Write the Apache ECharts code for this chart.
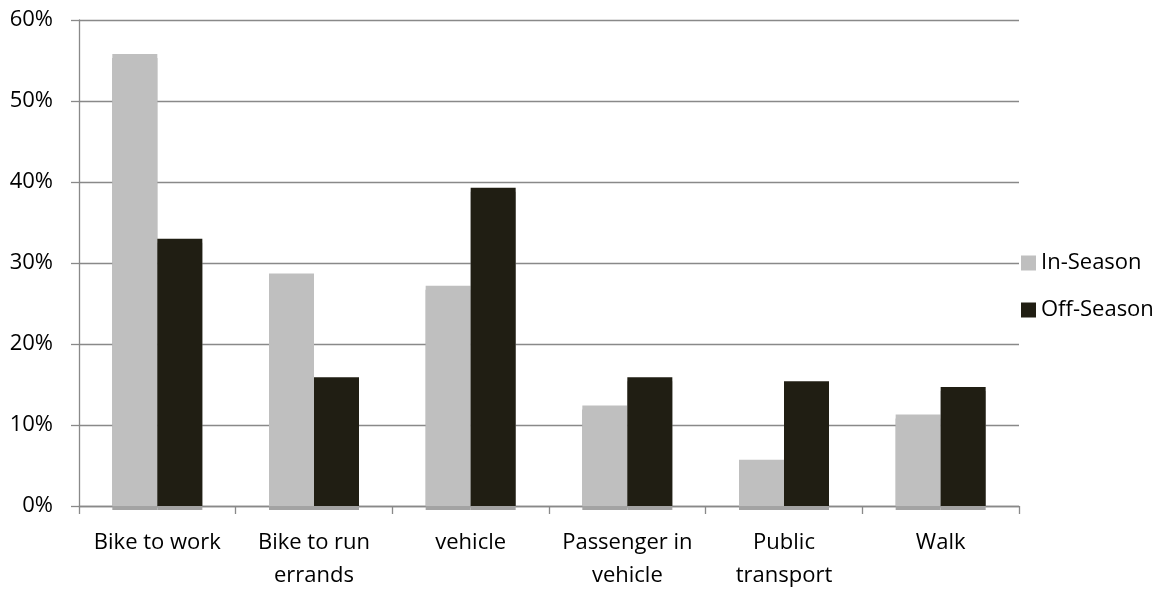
<!DOCTYPE html>
<html>
<head>
<meta charset="utf-8">
<script src="https://cdn.jsdelivr.net/npm/echarts@6/dist/echarts.min.js"></script>
<style>
  html, body { margin: 0; padding: 0; background: #ffffff; }
  #chart { width: 1165px; height: 592px; }
</style>
</head>
<body>
<div id="chart"></div>
<script>
// Commute mode shares, in-season vs off-season (percent of respondents)
const categories = ['Bike to work', 'Bike to run\nerrands', 'vehicle', 'Passenger in\nvehicle', 'Public\ntransport', 'Walk'];
const inSeason = [55.8, 28.7, 27.2, 12.4, 5.7, 11.3];
const offSeason = [33.0, 15.9, 39.3, 15.9, 15.4, 14.7];
const seriesNames = ['In-Season', 'Off-Season'];

const FONT = '"Open Sans", "Liberation Sans", sans-serif';
const FONT_SIZE = 22;
const GRID_GREY = '#898989';

const chart = echarts.init(document.getElementById('chart'), null, { renderer: 'canvas' });

// thin grey drop shadow that peeks out under each bar's base
const barShadow = {
  shadowColor: '#a3a3a3',
  shadowOffsetY: 4,
  shadowOffsetX: 0,
  shadowBlur: 0
};

chart.setOption({
  animation: false,
  backgroundColor: '#ffffff',
  grid: { left: 79, right: 146, top: 20, bottom: 80, containLabel: false },
  legend: {
    orient: 'vertical',
    left: 1021,
    top: 252,
    padding: 0,
    itemWidth: 15,
    itemHeight: 15,
    itemGap: 25,
    icon: 'rect',
    textStyle: { fontFamily: FONT, fontSize: FONT_SIZE, color: '#000000' },
    data: seriesNames
  },
  xAxis: {
    type: 'category',
    data: categories,
    axisLine: { show: true, lineStyle: { color: GRID_GREY, width: 1.3 } },
    axisTick: { show: true, length: 8, alignWithLabel: false, lineStyle: { color: GRID_GREY, width: 1.3 } },
    axisLabel: {
      interval: 0,
      margin: 20,
      color: '#000000',
      fontFamily: FONT,
      fontSize: FONT_SIZE,
      lineHeight: 33
    }
  },
  yAxis: {
    type: 'value',
    min: 0,
    max: 60,
    interval: 10,
    axisLine: { show: true, lineStyle: { color: GRID_GREY, width: 1.3 } },
    axisTick: { show: true, length: 8, lineStyle: { color: GRID_GREY, width: 1.3 } },
    splitLine: { show: true, lineStyle: { color: GRID_GREY, width: 1.3 } },
    axisLabel: {
      margin: 26,
      color: '#000000',
      fontFamily: FONT,
      fontSize: FONT_SIZE,
      formatter: v => v + '%'
    }
  },
  series: [
    {
      name: seriesNames[0],
      type: 'bar',
      data: inSeason,
      barWidth: 45,
      barGap: '0%',
      itemStyle: Object.assign({ color: '#bfbfbf' }, barShadow)
    },
    {
      name: seriesNames[1],
      type: 'bar',
      data: offSeason,
      barWidth: 45,
      barGap: '0%',
      itemStyle: Object.assign({ color: '#201e13' }, barShadow)
    }
  ]
});
</script>
</body>
</html>
